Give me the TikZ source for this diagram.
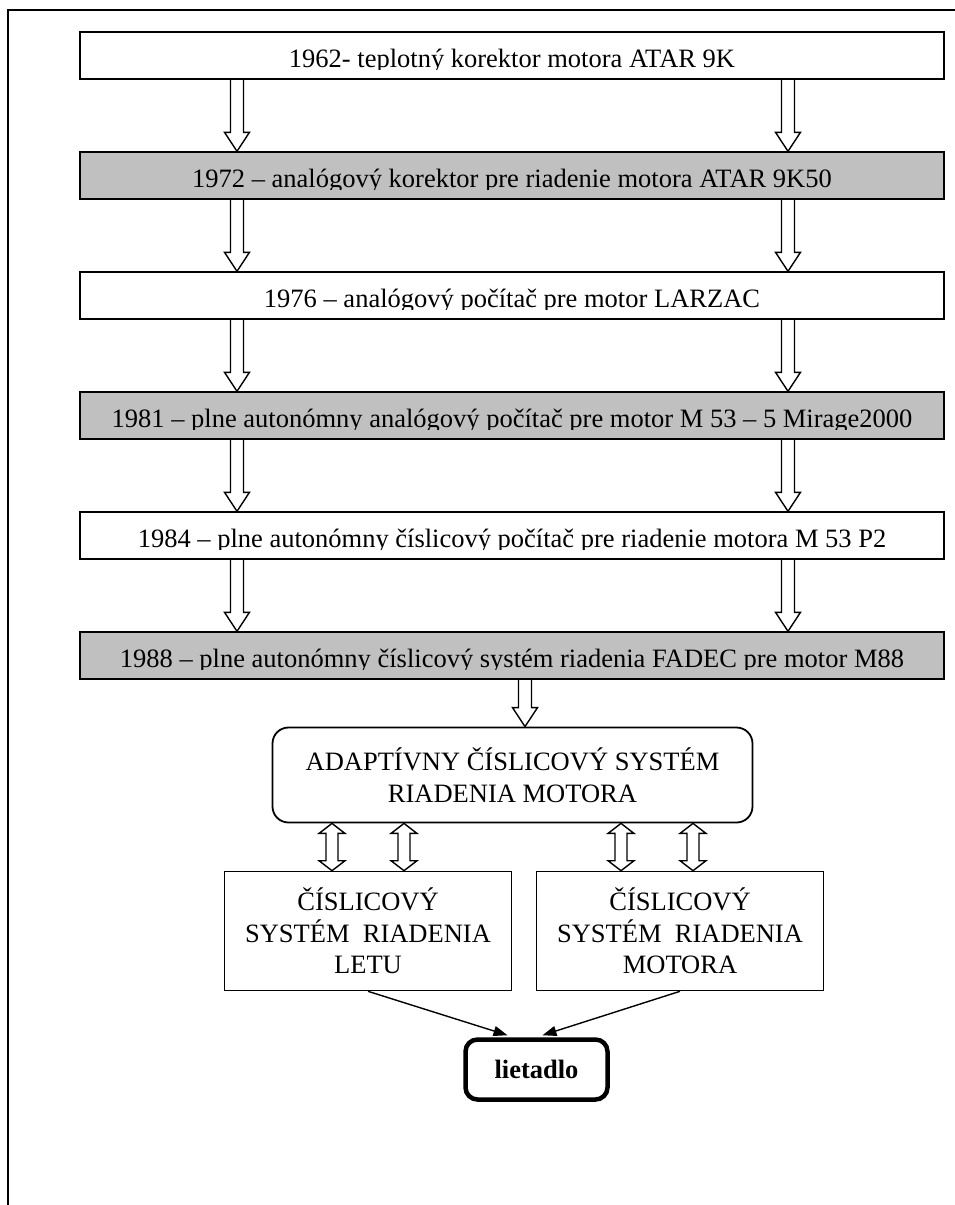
\documentclass[tikz,border=0pt]{standalone}
\usepackage{fontspec}
\setmainfont{Liberation Serif}
\usetikzlibrary{calc, arrows.meta}
\definecolor{cSilver}{HTML}{C0C0C0}
\newcommand{\bigtxt}{\fontsize{26.5}{31.5}\selectfont}
% hollow block arrow: top point #1, tip #2
\newcommand{\hollowdown}[2]{%
  \draw[hollow] let \p1=(#1), \p2=(#2) in
    (\x1-6.5pt,\y1) -- (\x1-6.5pt,\y2+19pt) -- (\x1-12.5pt,\y2+19pt) -- (\x1,\y2)
    -- (\x1+12.5pt,\y2+19pt) -- (\x1+6.5pt,\y2+19pt) -- (\x1+6.5pt,\y1);}
% hollow two-headed block arrow: top tip #1, bottom tip #2
\newcommand{\hollowboth}[2]{%
  \draw[hollow] let \p1=(#1), \p2=(#2) in
    (\x1,\y1) -- (\x1+13pt,\y1-10pt) -- (\x1+6pt,\y1-10pt) -- (\x1+6pt,\y2+10pt)
    -- (\x1+13pt,\y2+10pt) -- (\x1,\y2) -- (\x1-13pt,\y2+10pt) -- (\x1-6pt,\y2+10pt)
    -- (\x1-6pt,\y1-10pt) -- (\x1-13pt,\y1-10pt) -- cycle;}

\begin{document}
\begin{tikzpicture}[x=1pt, y=-1pt,
    yearbox/.style={draw, line width=1.4pt, minimum width=864pt, minimum height=47pt, inner sep=0pt},
    yeartext/.style={anchor=base, inner sep=0pt, font=\bigtxt},
    hollow/.style={draw, line width=1.4pt, line join=miter},
    adaptbox/.style={draw, line width=1.8pt, rounded corners=16pt, minimum width=480pt, minimum height=95pt, align=center, font=\bigtxt},
    sysbox/.style={draw, line width=1.6pt, minimum width=287pt, minimum height=119pt, align=center, font=\bigtxt},
    planebox/.style={draw, line width=4.5pt, rounded corners=12pt, minimum width=142pt, minimum height=60pt, font=\bigtxt\bfseries},
    arrow/.style={-{Triangle[length=14pt, width=10pt]}, line width=1.4pt}
  ]
  \useasboundingbox (0,0) rectangle (955,1205);
  % frame
  \draw[line width=2pt] (8,1205) -- (8,10) -- (955,10);

  % time line
  \foreach \nm/\yc/\tone/\yeartxt in {
      y62/55.5/white/{1962- teplotný korektor motora ATAR 9K},
      y72/175.5/cSilver/{1972 – analógový korektor pre riadenie motora ATAR 9K50},
      y76/295.5/white/{1976 – analógový počítač pre motor LARZAC},
      y81/415.5/cSilver/{1981 – plne autonómny analógový počítač pre motor M 53 – 5 Mirage2000},
      y84/535.5/white/{1984 – plne autonómny číslicový počítač pre riadenie motora M 53 P2},
      y88/655.5/cSilver/{1988 – plne autonómny číslicový systém riadenia FADEC pre motor M88}}{
    \node[yearbox, fill=\tone] (\nm) at (512,\yc) {};
    \begin{scope}
      \clip ($(\nm.south west)+(0,-10.5)$) rectangle (\nm.north east);
      \node[yeartext] at ($(\nm.south)+(0,-12.5)$) {\yeartxt};
    \end{scope}
  }

  \node[adaptbox] (adapt) at (512.5,775) {ADAPTÍVNY ČÍSLICOVÝ SYSTÉM\\RIADENIA MOTORA};
  \node[sysbox] (letu) at (368,931) {ČÍSLICOVÝ\\SYSTÉM\ \ RIADENIA\\LETU};
  \node[sysbox] (motor) at (680,931) {ČÍSLICOVÝ\\SYSTÉM\ \ RIADENIA\\MOTORA};
  \node[planebox] (plane) at (536.5,1069.5) {lietadlo};

  \coordinate (lcol) at (237,0);
  \coordinate (rcol) at (788,0);
  \coordinate (mcol) at (525,0);
  \foreach \a/\b in {y62/y72, y72/y76, y76/y81, y81/y84, y84/y88}{
    \hollowdown{\a.south -| lcol}{\b.north -| lcol}
    \hollowdown{\a.south -| rcol}{\b.north -| rcol}
  }
  \hollowdown{y88.south -| mcol}{adapt.north -| mcol}

  \coordinate (d1) at (332,0);
  \coordinate (d2) at (404,0);
  \coordinate (d3) at (621,0);
  \coordinate (d4) at (693,0);
  \foreach \c/\b in {d1/letu, d2/letu, d3/motor, d4/motor}{
    \hollowboth{adapt.south -| \c}{\b.north -| \c}
  }

  \draw[arrow] (letu.south) -- ([xshift=-29pt, yshift=2pt]plane.north);
  \draw[arrow] (motor.south) -- ([xshift=6pt, yshift=2pt]plane.north);
\end{tikzpicture}
\end{document}
